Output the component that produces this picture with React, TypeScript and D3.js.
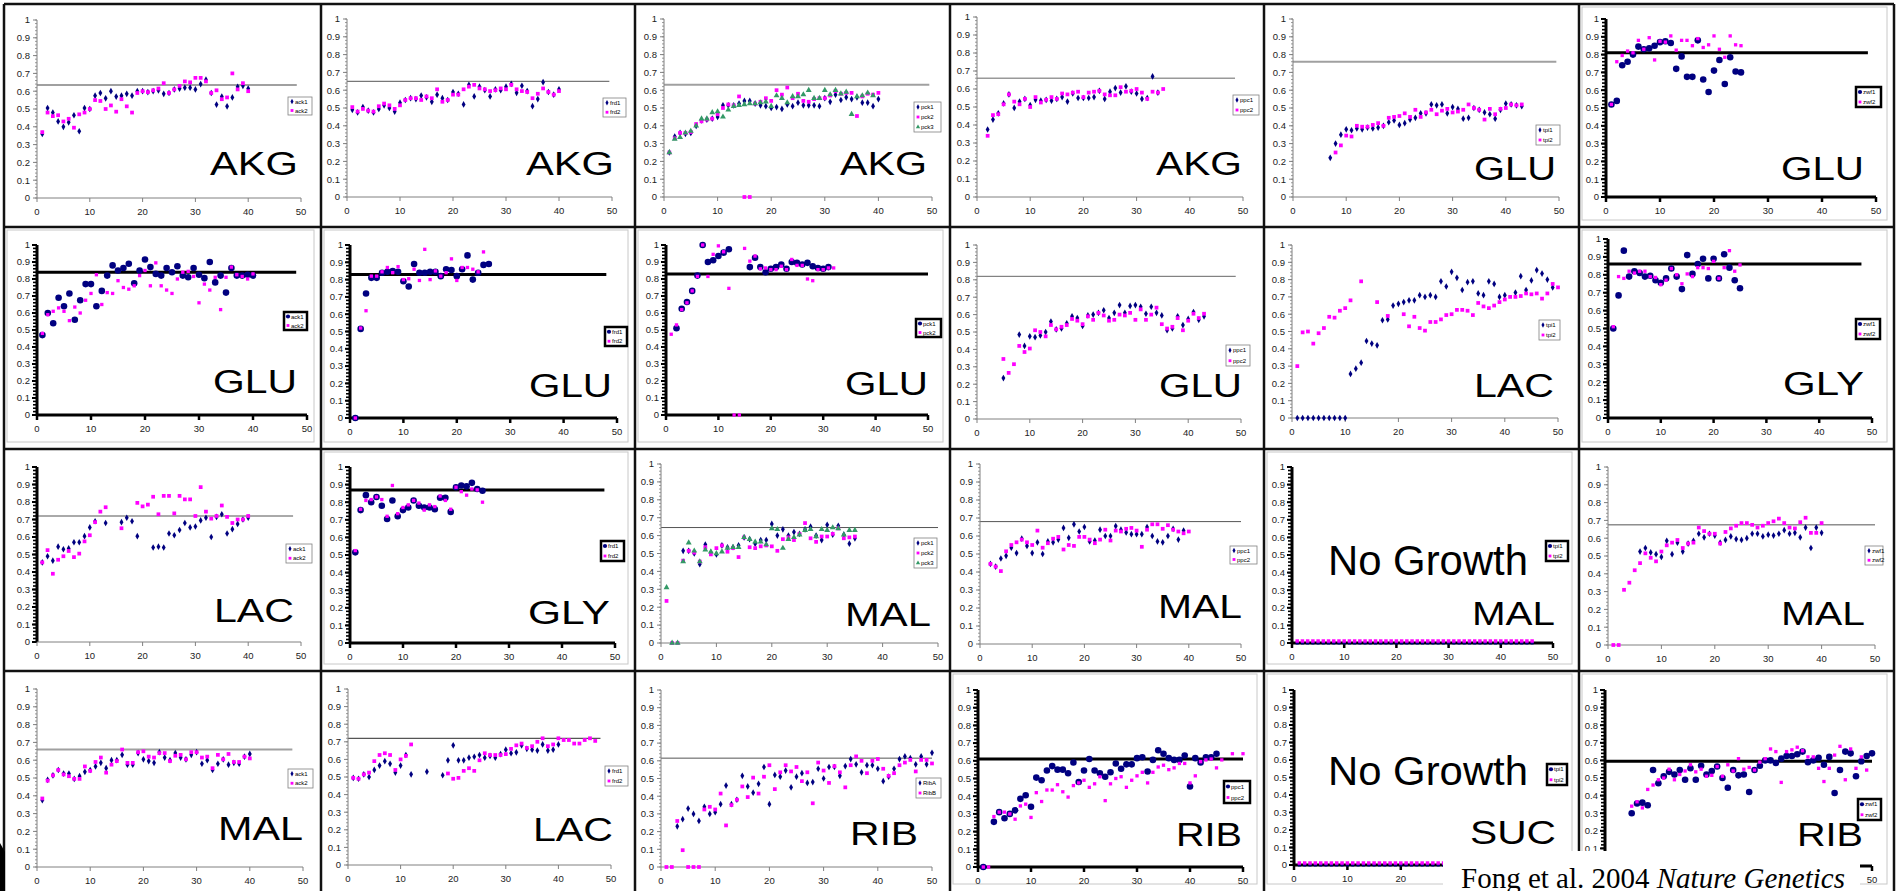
import React from 'react';
import * as d3 from 'd3';

// ---- data: each series starts at day `start`, one value per day (null = no point)
const akgAck1 = [0.36,0.505,0.48,0.43,0.40,0.425,0.465,0.375,0.505,0.50,0.575,0.59,0.56,0.60,0.57,0.575,0.585,0.575,0.60,0.60,0.595,0.60,0.605,0.585,0.59,0.61,0.615,0.62,0.62,0.61,0.64,0.665,0.59,0.525,0.57,0.515,0.565,0.625,0.63,0.615];
const akgAck2 = [0.37,0.48,0.46,0.465,0.43,0.445,0.395,0.47,0.48,0.50,0.55,0.545,0.50,0.52,0.485,0.555,0.515,0.48,0.59,0.60,0.595,0.605,0.615,0.645,0.59,0.61,0.63,0.655,0.65,0.675,0.675,0.655,0.59,0.605,0.555,0.565,0.70,0.61,0.645,0.60];
const akgFrd1 = [0.49,0.475,0.505,0.485,0.475,0.495,0.515,0.50,0.48,0.53,0.545,0.555,0.55,0.57,0.56,0.535,0.575,0.555,0.545,0.59,0.58,0.52,0.63,0.565,0.62,0.60,0.565,0.605,0.60,0.62,0.635,0.585,0.625,0.595,0.51,0.55,0.645,0.59,0.575,0.605];
const akgFrd2 = [0.505,0.48,0.495,0.485,0.48,0.51,0.525,0.515,0.495,0.515,0.545,0.555,0.555,0.545,0.565,0.555,0.605,0.535,0.545,0.575,0.575,0.605,0.62,0.63,0.61,0.605,0.595,0.60,0.61,0.605,0.63,0.605,0.595,0.59,0.555,0.58,0.61,0.59,0.575,0.595];
const akgPck1 = [0.25,0.34,0.36,0.355,0.36,0.40,0.43,0.435,0.44,0.45,0.515,0.515,0.515,0.525,0.54,0.54,0.525,0.515,0.51,0.50,0.505,0.495,0.52,0.51,0.53,0.515,0.515,0.515,0.51,0.555,0.535,0.575,0.545,0.56,0.55,0.56,0.53,0.53,0.51,0.55];
const akgPck2 = [0.25,0.33,0.36,0.36,0.365,0.41,0.425,0.435,0.44,0.465,0.50,0.52,0.515,0.565,0,0,0.525,0.535,0.555,0.54,0.60,0.575,0.615,0.555,0.58,0.54,0.535,0.55,0.555,0.555,0.57,0.595,0.58,0.585,0.585,0.455,0.565,0.58,0.575,0.585];
const akgPck3 = [0.25,0.325,0.335,0.36,0.37,0.40,0.44,0.44,0.475,0.48,0.45,0.49,0.51,0.515,0.52,0.525,0.525,0.53,0.535,0.51,0.57,0.555,0.53,0.565,0.565,0.575,0.60,0.555,0.555,0.60,0.575,0.60,0.58,0.59,0.465,0.565,0.57,0.585,0.57];
const akgPpc1 = [0.375,0.43,0.465,0.52,0.57,0.495,0.53,0.545,0.51,0.54,0.535,0.54,0.535,0.545,0.555,0.53,0.575,0.55,0.55,0.55,0.555,0.59,0.545,0.585,0.605,0.58,0.615,0.585,0.575,0.545,0.55,0.67,0.58];
const akgPpc2 = [0.34,0.455,0.46,0.515,0.57,0.53,0.515,0.545,0.50,0.555,0.525,0.54,0.555,0.545,0.575,0.57,0.58,0.585,0.555,0.58,0.585,0.59,0.57,0.565,0.565,0.61,0.585,0.59,0.60,0.58,0.545,0.585,0.58,0.60];
const gluTpi1 = [0.22,0.30,0.35,0.38,0.375,0.385,0.38,0.39,0.385,0.39,0.40,0.42,0.43,0.405,0.415,0.435,0.445,0.47,0.47,0.52,0.515,0.52,0.47,0.505,0.495,0.44,0.445,0.50,0.49,0.475,0.465,0.44,0.49,0.525,0.52,0.515,0.51];
const gluTpi2 = [0.25,0.29,0.345,0.34,0.40,0.395,0.395,0.405,0.415,0.40,0.445,0.45,0.455,0.47,0.45,0.49,0.45,0.475,0.49,0.465,0.485,0.495,0.475,0.48,0.49,0.52,0.50,0.49,0.435,0.495,0.465,0.495,0.50,0.52,0.515,0.52];
const gluZwf1 = [0.52,0.54,0.74,0.76,0.80,0.845,0.83,0.835,0.85,0.87,0.875,0.865,0.72,0.79,0.675,0.675,0.88,0.66,0.59,0.71,0.77,0.635,0.785,0.705,0.70];
const gluZwf2 = [0.52,0.76,0.795,0.82,0.81,0.88,0.83,0.895,0.77,0.875,0.87,0.905,0.825,0.88,0.88,0.85,0.89,0.84,0.855,0.905,0.83,0.785,0.905,0.855,0.85];
const gluAck1 = [0.47,0.60,0.54,0.69,0.64,0.715,0.56,0.675,0.77,0.77,0.64,0.73,0.82,0.88,0.85,0.865,0.89,0.775,0.85,0.915,0.87,0.83,0.82,0.865,0.84,0.875,0.82,0.81,0.865,0.825,0.805,0.90,0.78,0.82,0.72,0.865,0.82,0.82,0.825,0.82];
const gluAck2 = [0.48,0.59,0.61,0.63,0.61,0.555,0.635,0.60,0.675,0.715,0.825,0.65,0.72,0.715,0.79,0.75,0.74,0.76,0.82,0.85,0.76,0.895,0.76,0.735,0.715,0.80,0.84,0.845,0.815,0.66,0.77,0.735,0.81,0.62,0.81,0.87,0.825,0.815,0.80,0.83];
const gluFrd1 = [0,0.515,0.72,0.81,0.81,0.84,0.845,0.85,0.845,0.79,0.76,0.89,0.84,0.84,0.845,0.845,0.82,0.86,0.855,0.82,0.86,0.94,0.80,0.84,0.885,0.89];
const gluFrd2 = [0,0.52,0.62,0.82,0.82,0.845,0.87,0.84,0.875,0.80,0.805,0.86,0.795,0.975,0.80,0.85,0.82,0.84,0.92,0.795,0.87,0.87,0.86,0.845,0.96];
const gluPck1 = [0.51,0.625,0.665,0.73,0.82,1.0,0.90,0.91,0.935,0.955,0.975,null,null,null,0.87,0.925,0.87,0.84,0.86,0.87,0.885,0.86,0.90,0.895,0.885,0.895,0.875,0.865,0.86,0.87];
const gluPck2 = [0.475,0.53,0.62,0.66,0.73,0.815,1.0,0.815,0.945,0.995,0.96,0.745,0,0,0.98,0.905,0.935,0.86,0.865,0.855,0.855,0.875,0.855,0.915,0.88,0.88,0.80,0.79,0.855,0.855,0.865,0.865];
const gluPpc1 = [0.235,null,null,0.485,0.42,0.475,0.47,0.48,0.50,0.56,0.515,0.52,0.55,0.59,0.58,0.535,0.595,0.60,0.61,0.625,0.58,0.61,0.655,0.61,0.65,0.655,0.645,0.605,0.645,0.61,0.595,0.51,0.52,0.59,0.54,0.575,0.615,0.57,0.59];
const gluPpc2 = [0.345,0.265,0.315,0.42,0.385,0.405,0.51,0.50,0.475,0.54,0.515,0.53,0.54,0.575,0.565,0.545,0.59,0.57,0.61,0.595,0.565,0.57,0.60,0.595,0.61,0.57,0.63,0.57,0.60,0.64,0.545,0.52,0.53,0.58,0.51,0.565,0.605,0.58,0.605];
const lacTpi1 = [0,0,0,0,0,0,0,0,0,0,0.255,0.285,0.32,0.445,0.43,0.42,0.565,0.57,0.65,0.66,0.67,0.68,0.68,0.71,0.70,0.71,0.70,0.79,0.76,0.845,0.81,0.74,0.785,0.79,0.72,0.71,0.79,0.775,0.70,0.71,null,0.725,0.82,0.74,0.795,0.855,0.835,0.80,0.755];
const lacTpi2 = [0.30,0.495,0.50,0.43,0.49,0.52,0.585,0.58,0.62,0.635,0.68,null,0.79,null,null,0.67,null,0.59,null,null,0.60,0.53,0.585,0.52,0.505,0.555,0.555,0.57,0.595,0.60,0.625,0.625,0.62,0.595,0.665,0.645,0.635,0.65,0.67,0.685,0.70,0.70,0.705,0.72,0.715,0.72,0.69,0.72,0.775,0.755];
const glyZwf1 = [0.50,0.685,0.935,0.79,0.82,0.81,0.79,0.795,0.77,0.755,0.78,0.835,0.79,0.72,0.91,0.805,0.86,0.89,0.78,0.89,0.78,0.915,0.84,0.77,0.725];
const glyZwf2 = [0.51,0.79,0.78,0.82,0.81,0.82,0.82,0.79,0.785,0.745,0.77,0.835,0.80,0.75,0.805,0.79,0.84,0.84,0.835,0.875,0.78,0.84,0.935,0.82,0.855];
const lacAck1 = [0.455,0.49,0.465,0.545,0.53,0.535,0.57,0.57,0.605,0.655,0.69,null,0.68,null,null,0.685,0.71,0.69,0.605,null,null,0.54,0.545,0.54,0.62,0.61,0.64,0.68,0.655,0.66,0.695,0.71,0.60,0.715,0.73,0.62,0.645,0.675,0.70,0.71];
const lacAck2 = [0.455,0.525,0.39,0.47,0.49,0.52,0.485,0.505,0.575,0.61,0.685,0.745,0.77,null,null,0.65,null,null,0.795,0.775,0.785,0.83,0.73,0.835,0.835,0.735,0.835,0.815,0.815,0.72,0.885,0.745,0.705,0.72,0.78,0.715,0.68,0.70,0.70,0.72];
const glyFrd1 = [0.515,0.755,0.84,0.80,0.83,0.78,0.705,0.81,0.72,0.755,0.77,0.81,0.78,0.77,0.77,0.76,0.825,0.825,0.745,0.885,0.895,0.89,0.91,0.875,0.865];
const glyFrd2 = [0.525,0.76,0.81,0.815,0.83,0.815,0.72,0.895,0.735,0.77,0.785,0.81,0.795,0.755,0.785,0.775,0.835,0.81,0.76,0.885,0.86,0.84,0.875,0.87,0.80];
const malPck1 = [0.515,0.515,0.50,0.44,0.55,0.505,0.495,0.545,0.535,0.535,0.545,0.59,0.58,0.555,0.575,0.575,0.665,0.60,0.635,0.60,0.62,0.61,0.635,0.65,0.60,0.575,0.66,0.605,0.655,0.605,0.555,0.585];
const malPck2 = [0.235,0,0,0.46,0.515,0.505,0.455,0.535,0.495,0.53,0.545,0.51,0.53,0.48,0.59,0.535,0.53,0.54,0.545,0.54,0.515,0.58,0.59,0.575,0.61,0.67,0.585,0.565,0.595,0.595,0.61,0.64,0.585,0.59,0.595];
const malPck3 = [0.31,0,0,0.455,0.56,0.515,0.455,0.52,0.51,0.50,0.51,0.53,0.535,0.535,0.59,0.58,0.565,0.565,0.55,0.64,0.635,0.53,0.58,0.59,0.605,0.63,0.635,0.595,0.635,0.63,0.645,0.64,0.605,0.63,0.63];
const malPpc1 = [0.445,0.43,0.475,0.49,0.535,0.505,0.585,0.545,0.505,0.565,0.50,0.57,0.565,0.58,0.645,0.59,0.665,0.625,0.65,0.57,0.575,0.635,0.60,0.60,0.655,0.635,0.62,0.61,0.61,0.61,0.65,0.60,0.57,0.565,0.60,0.64,0.58,0.63];
const malPpc2 = [0.445,0.43,0.405,0.515,0.55,0.565,0.58,0.565,0.55,0.63,0.535,0.56,0.585,0.595,0.525,0.55,0.545,0.595,0.595,0.58,0.56,0.58,0.635,0.575,0.63,0.625,0.64,0.645,0.63,0.54,0.635,0.665,0.665,0.64,0.66,0.635,0.625,0.615,0.625];
const malTpi1 = [0,0,0,0,0,0,0,0,0,0,0,0,0,0,0,0,0,0,0,0,0,0,0,0,0,0,0,0,0,0,0,0,0,0,0,0,0,0,0,0,0,0,0,0,0,0];
const malTpi2 = [0,0,0,0,0,0,0,0,0,0,0,0,0,0,0,0,0,0,0,0,0,0,0,0,0,0,0,0,0,0,0,0,0,0,0,0,0,0,0,0,0,0,0,0,0,0];
const malZwf1 = [0.525,0.545,0.52,0.51,0.495,0.585,0.51,0.575,0.525,0.57,0.585,0.625,0.605,0.625,0.615,0.575,0.59,0.61,0.595,0.59,0.60,0.625,0.625,0.61,0.62,0.615,0.625,0.645,0.625,0.63,0.605,0.66,0.545,0.66,0.63];
const malZwf2 = [0,0,0.31,0.35,0.42,0.46,0.515,0.49,0.47,0.525,0.56,0.575,0.59,0.545,0.57,0.575,0.66,0.64,0.625,0.625,0.57,0.635,0.655,0.67,0.685,0.685,0.675,0.66,0.67,0.685,0.695,0.71,0.685,0.66,0.655,0.69,0.715,0.63,0.63,0.685];
const malAck1 = [0.375,0.49,0.515,0.545,0.525,0.525,0.495,0.51,0.535,0.545,0.565,0.585,0.555,0.60,0.60,0.63,0.575,0.575,0.64,0.605,0.595,0.585,0.645,0.615,0.60,0.64,0.615,0.605,0.63,0.645,0.58,0.60,0.545,0.58,0.605,0.575,0.585,0.58,0.62,0.635];
const malAck2 = [0.385,0.485,0.515,0.545,0.52,0.51,0.495,0.495,0.565,0.54,0.59,0.615,0.53,0.575,0.595,0.66,0.585,0.585,0.645,0.65,0.62,0.615,0.64,0.64,0.595,0.625,0.63,0.605,0.645,0.645,0.615,0.62,0.555,0.63,0.605,0.635,0.59,0.59,0.62,0.61];
const lacFrd1 = [0.495,0.49,0.515,0.50,0.54,0.565,0.59,0.575,0.525,0.565,0.625,0.515,null,null,0.53,null,null,0.51,0.595,0.68,0.595,0.595,0.61,0.615,0.625,0.61,0.62,0.61,0.63,0.655,0.635,0.64,0.68,0.66,0.655,0.65,0.685,0.65,0.655,0.685];
const lacFrd2 = [0.495,0.49,0.515,0.525,0.59,0.625,0.635,0.625,0.54,0.60,0.62,0.685,null,null,null,null,null,null,0.52,0.49,0.495,0.535,0.55,0.535,0.595,0.635,0.625,0.625,0.625,0.63,0.66,0.68,0.69,0.665,0.675,0.70,0.72,0.675,0.685,0.72,0.71,0.71,0.69,0.69,0.71,0.72,0.705];
const ribA = [0.23,0.27,0.33,0.30,0.26,0.34,0.30,0.31,0.355,0.46,0.355,0.38,0.515,0.455,0.42,0.47,0.565,0.355,0.52,0.51,0.545,0.45,0.51,0.53,0.475,0.48,0.555,0.50,0.565,0.565,0.515,0.57,0.61,0.58,0.535,0.575,0.575,0.555,0.485,0.51,0.555,0.61,0.625,0.615,0.58,0.625,0.58,0.645];
const ribB = [0,0,0.26,0.095,0,0,0,0.325,0.34,0.325,0.415,0.235,0.35,0.38,0.455,0.395,0.505,0.415,0.51,0.575,0.44,0.535,0.575,0.54,0.565,0.485,0.535,0.36,0.59,0.545,0.475,0.57,0.535,0.45,0.575,0.625,0.60,0.53,0.60,0.61,0.555,0.515,0.53,0.575,0.59,0.605,0.54,0.605,0.605,0.585];
const ribPpc1 = [0,null,0.255,0.31,0.275,0.30,0.32,0.385,0.405,0.34,0.505,0.49,0.545,0.57,0.55,0.55,0.53,0.59,0.48,0.545,0.61,0.545,0.53,0.51,0.535,0.585,0.555,0.58,0.58,0.615,0.62,0.54,0.605,0.66,0.64,0.615,0.605,0.605,0.63,0.455,0.615,0.59,0.62,0.62,0.64];
const ribPpc2 = [0,0,0.285,0.31,0.31,0.30,0.27,0.345,0.355,0.28,0.42,0.37,0.435,0.435,0.465,0.425,0.395,0.46,0.475,0.49,0.45,0.47,0.51,0.375,0.47,0.50,0.51,0.45,0.49,0.515,0.535,0.475,0.535,0.565,0.575,0.55,0.56,0.585,0.585,0.475,0.515,0.595,0.605,0.61,0.56,0.605,null,0.64,null,0.64];
const sucTpi1 = [0,0,0,0,0,0,0,0,0,0,0,0,0,0,0,0,0,0,0,0,0,0,0,0,0,0,0,0,0,0,0,0,0,0,0,0,0,0,0,0,0,0,0,0,0,0];
const sucTpi2 = [0,0,0,0,0,0,0,0,0,0,0,0,0,0,0,0,0,0,0,0,0,0,0,0,0,0,0,0,0,0,0,0,0,0,0,0,0,0,0,0,0,0,0,0,0,0];
const ribZwf1 = [0.30,0.355,0.36,0.345,0.545,0.47,0.51,0.535,0.52,0.545,0.49,0.555,0.49,0.57,0.52,0.54,0.565,0.50,0.445,0.545,0.515,0.52,0.42,0.545,0.57,0.60,0.60,0.585,0.61,0.625,0.625,0.635,0.65,0.59,0.60,0.615,0.575,0.62,0.415,0.545,0.65,0.64,0.51,0.595,0.625,0.64];
const ribZwf2 = [0.34,0.365,0.33,0.435,0.46,0.49,0.50,0.55,0.49,0.52,0.54,0.575,0.535,0.55,0.51,0.515,0.565,0.51,0.575,0.54,0.61,0.55,0.56,0.545,0.59,0.61,0.665,0.65,0.475,0.65,0.66,0.675,0.655,0.62,0.62,0.555,0.48,0.555,0.63,0.68,0.49,0.665,0.555,0.62,0.545];

const xTicks = [0, 10, 20, 30, 40, 50];
const yTicks = [0, 0.1, 0.2, 0.3, 0.4, 0.5, 0.6, 0.7, 0.8, 0.9, 1];

const NAVY = '#000080';
const PINK = '#ff00ff';
const GREEN = '#339966';
const FONT = 'Liberation Sans, Arial, sans-serif';

const colEdges = [4, 321, 635, 950, 1264, 1579, 1894];
const rowEdges = [4, 227, 449, 671, 891];

type Kind = 'navy' | 'pink' | 'green';
type Series = { label: string; start: number; values: (number | null)[]; kind: Kind };
type Label = { t: string; x1: number; x2: number; y: number; size?: number };
type Cfg = {
  r: number; c: number;
  px: [number, number]; py: [number, number];
  bold?: boolean; boldY?: boolean; flat?: boolean;
  xLabels?: number[]; yLabels?: number[];
  ref?: { y: number; xEnd: number; color: string; w: number };
  legend: [number, number, number, number];
  labels: Label[];
  series: Series[];
};

const s = (label: string, start: number, values: (number | null)[], kind: Kind): Series => ({ label, start, values, kind });

const panels: Cfg[] = [
  { r: 0, c: 0, px: [37, 301], py: [198, 20], ref: { y: 0.635, xEnd: 49.2, color: '#a0a0a0', w: 2 }, legend: [288, 97, 24, 18],
    labels: [{ t: 'AKG', x1: 210, x2: 298, y: 175 }], series: [s('ack1', 1, akgAck1, 'navy'), s('ack2', 1, akgAck2, 'pink')] },
  { r: 0, c: 1, px: [347, 612], py: [197, 19], ref: { y: 0.65, xEnd: 49.5, color: '#555', w: 1 }, legend: [603, 98, 23, 19],
    labels: [{ t: 'AKG', x1: 526, x2: 614, y: 175 }], series: [s('frd1', 1, akgFrd1, 'navy'), s('frd2', 1, akgFrd2, 'pink')] },
  { r: 0, c: 2, px: [664, 932], py: [197, 19], ref: { y: 0.63, xEnd: 49.5, color: '#a0a0a0', w: 2 }, legend: [914, 102, 27, 30],
    labels: [{ t: 'AKG', x1: 840, x2: 927, y: 175 }], series: [s('pck1', 1, akgPck1, 'navy'), s('pck2', 1, akgPck2, 'pink'), s('pck3', 1, akgPck3, 'green')] },
  { r: 0, c: 3, px: [977, 1243], py: [197, 17], ref: { y: 0.66, xEnd: 48.5, color: '#999', w: 1.5 }, legend: [1233, 95, 26, 20],
    labels: [{ t: 'AKG', x1: 1156, x2: 1242, y: 175 }], series: [s('ppc1', 2, akgPpc1, 'navy'), s('ppc2', 2, akgPpc2, 'pink')] },
  { r: 0, c: 4, px: [1293, 1559], py: [197, 19], ref: { y: 0.76, xEnd: 49.5, color: '#a0a0a0', w: 2 }, legend: [1536, 125, 24, 20],
    labels: [{ t: 'GLU', x1: 1474, x2: 1556, y: 180 }], series: [s('tpi1', 7, gluTpi1, 'navy'), s('tpi2', 8, gluTpi2, 'pink')] },
  { r: 0, c: 5, px: [1606, 1876], py: [197, 19], bold: true, ref: { y: 0.81, xEnd: 48.5, color: '#000', w: 3 }, legend: [1856, 87, 25, 20],
    labels: [{ t: 'GLU', x1: 1781, x2: 1864, y: 180 }], series: [s('zwf1', 1, gluZwf1, 'navy'), s('zwf2', 1, gluZwf2, 'pink')] },

  { r: 1, c: 0, px: [37, 307], py: [415, 245], bold: true, ref: { y: 0.84, xEnd: 48, color: '#000', w: 3 }, legend: [284, 312, 23, 18],
    labels: [{ t: 'GLU', x1: 213, x2: 297, y: 393 }], series: [s('ack1', 1, gluAck1, 'navy'), s('ack2', 1, gluAck2, 'pink')] },
  { r: 1, c: 1, px: [350, 617], py: [418, 245], bold: true, ref: { y: 0.83, xEnd: 48, color: '#000', w: 3 }, legend: [605, 327, 22, 19],
    labels: [{ t: 'GLU', x1: 529, x2: 612, y: 397 }], series: [s('frd1', 1, gluFrd1, 'navy'), s('frd2', 1, gluFrd2, 'pink')] },
  { r: 1, c: 2, px: [666, 928], py: [415, 245], bold: true, ref: { y: 0.83, xEnd: 50, color: '#000', w: 3 }, legend: [916, 319, 25, 18],
    labels: [{ t: 'GLU', x1: 845, x2: 928, y: 395 }], series: [s('pck1', 2, gluPck1, 'navy'), s('pck2', 1, gluPck2, 'pink')] },
  { r: 1, c: 3, px: [977, 1241], py: [419, 245], ref: { y: 0.82, xEnd: 49, color: '#666', w: 1 }, legend: [1226, 345, 24, 21],
    labels: [{ t: 'GLU', x1: 1159, x2: 1242, y: 397 }], series: [s('ppc1', 5, gluPpc1, 'navy'), s('ppc2', 5, gluPpc2, 'pink')] },
  { r: 1, c: 4, px: [1292, 1558], py: [418, 245], legend: [1539, 320, 21, 20],
    labels: [{ t: 'LAC', x1: 1474, x2: 1554, y: 397 }], series: [s('tpi1', 1, lacTpi1, 'navy'), s('tpi2', 1, lacTpi2, 'pink')] },
  { r: 1, c: 5, px: [1608, 1872], py: [418, 239], bold: true, ref: { y: 0.86, xEnd: 48, color: '#000', w: 3 }, legend: [1856, 319, 24, 20],
    labels: [{ t: 'GLY', x1: 1783, x2: 1864, y: 395 }], series: [s('zwf1', 1, glyZwf1, 'navy'), s('zwf2', 1, glyZwf2, 'pink')] },

  { r: 2, c: 0, px: [37, 301], py: [642, 467], boldY: true, ref: { y: 0.72, xEnd: 48.5, color: '#555', w: 1 }, legend: [286, 544, 26, 19],
    labels: [{ t: 'LAC', x1: 214, x2: 294, y: 622 }], series: [s('ack1', 1, lacAck1, 'navy'), s('ack2', 1, lacAck2, 'pink')] },
  { r: 2, c: 1, px: [350, 615], py: [643, 467], bold: true, ref: { y: 0.87, xEnd: 48, color: '#000', w: 3 }, legend: [601, 541, 23, 20],
    labels: [{ t: 'GLY', x1: 528, x2: 610, y: 624 }], series: [s('frd1', 1, glyFrd1, 'navy'), s('frd2', 1, glyFrd2, 'pink')] },
  { r: 2, c: 2, px: [661, 938], py: [643, 464], ref: { y: 0.645, xEnd: 50, color: '#555', w: 1 }, legend: [914, 538, 23, 30],
    labels: [{ t: 'MAL', x1: 845, x2: 931, y: 626 }], series: [s('pck1', 4, malPck1, 'navy'), s('pck2', 1, malPck2, 'pink'), s('pck3', 1, malPck3, 'green')] },
  { r: 2, c: 3, px: [980, 1241], py: [644, 464], ref: { y: 0.68, xEnd: 50, color: '#555', w: 1 }, legend: [1230, 546, 27, 18],
    labels: [{ t: 'MAL', x1: 1158, x2: 1242, y: 618 }], series: [s('ppc1', 2, malPpc1, 'navy'), s('ppc2', 2, malPpc2, 'pink')] },
  { r: 2, c: 4, px: [1292, 1553], py: [643, 467], bold: true, flat: true, legend: [1546, 541, 22, 20],
    labels: [{ t: 'No Growth', x1: 1328, x2: 1528, y: 575, size: 42 }, { t: 'MAL', x1: 1472, x2: 1555, y: 625 }],
    series: [s('tpi1', 1, malTpi1, 'navy'), s('tpi2', 1, malTpi2, 'pink')] },
  { r: 2, c: 5, px: [1608, 1875], py: [645, 467], ref: { y: 0.675, xEnd: 50, color: '#555', w: 1 }, legend: [1865, 546, 18, 19],
    labels: [{ t: 'MAL', x1: 1781, x2: 1865, y: 625 }], series: [s('zwf1', 6, malZwf1, 'navy'), s('zwf2', 1, malZwf2, 'pink')] },

  { r: 3, c: 0, px: [37, 303], py: [867, 689], ref: { y: 0.66, xEnd: 48, color: '#a0a0a0', w: 2 }, legend: [288, 769, 25, 19],
    labels: [{ t: 'MAL', x1: 218, x2: 303, y: 840 }], series: [s('ack1', 1, malAck1, 'navy'), s('ack2', 1, malAck2, 'pink')] },
  { r: 3, c: 1, px: [348, 611], py: [865, 689], ref: { y: 0.72, xEnd: 48, color: '#555', w: 1.2 }, legend: [605, 766, 23, 20],
    labels: [{ t: 'LAC', x1: 533, x2: 613, y: 841 }], series: [s('frd1', 1, lacFrd1, 'navy'), s('frd2', 1, lacFrd2, 'pink')] },
  { r: 3, c: 2, px: [661, 932], py: [867, 690], ref: { y: 0.615, xEnd: 50, color: '#555', w: 1 }, legend: [916, 778, 25, 20],
    labels: [{ t: 'RIB', x1: 850, x2: 918, y: 845 }], series: [s('RibA', 3, ribA, 'navy'), s('RibB', 1, ribB, 'pink')] },
  { r: 3, c: 3, px: [978, 1243], py: [867, 690], bold: true, ref: { y: 0.61, xEnd: 50, color: '#000', w: 3 }, legend: [1224, 781, 26, 22],
    labels: [{ t: 'RIB', x1: 1176, x2: 1242, y: 846 }], series: [s('ppc1', 1, ribPpc1, 'navy'), s('ppc2', 1, ribPpc2, 'pink')] },
  { r: 3, c: 4, px: [1294, 1561], py: [865, 690], bold: true, flat: true, xLabels: [0, 10, 20], legend: [1547, 764, 20, 21],
    labels: [{ t: 'No Growth', x1: 1328, x2: 1528, y: 785, size: 40 }, { t: 'SUC', x1: 1470, x2: 1556, y: 844 }],
    series: [s('tpi1', 1, sucTpi1, 'navy'), s('tpi2', 1, sucTpi2, 'pink')] },
  { r: 3, c: 5, px: [1605, 1872], py: [866, 690], bold: true, xLabels: [50], yLabels: [0.1, 0.2, 0.3, 0.4, 0.5, 0.6, 0.7, 0.8, 0.9, 1],
    ref: { y: 0.595, xEnd: 50, color: '#000', w: 3 }, legend: [1858, 799, 23, 21],
    labels: [{ t: 'RIB', x1: 1797, x2: 1863, y: 846 }], series: [s('zwf1', 5, ribZwf1, 'navy'), s('zwf2', 5, ribZwf2, 'pink')] },
];

function marker(kind: Kind, bold: boolean, small = false) {
  if (kind === 'navy') {
    return bold
      ? d3.symbol(d3.symbolCircle, small ? 14 : 34)()
      : d3.symbol(d3.symbolDiamond, small ? 8 : 13)();
  }
  if (kind === 'pink') return d3.symbol(d3.symbolSquare, small ? 8 : bold ? 11 : 14)();
  return d3.symbol(d3.symbolTriangle, small ? 8 : 15)();
}
const colorOf = (k: Kind) => (k === 'navy' ? NAVY : k === 'pink' ? PINK : GREEN);
const fmtY = (v: number) => (v === 0 ? '0' : v === 1 ? '1' : v.toFixed(1));

function Panel({ p }: { p: Cfg }) {
  const x = d3.scaleLinear().domain([0, 50]).range(p.px);
  const y = d3.scaleLinear().domain([0, 1]).range(p.py);
  const bold = !!p.bold;
  const boldY = bold || !!p.boldY;
  const yAxisCol = boldY ? '#000' : '#808080';
  const xAxisCol = bold ? '#000' : '#808080';
  const minor = d3.range(0, 51).map(i => i / 50);
  const cl = colEdges[p.c], cr = colEdges[p.c + 1], ct = rowEdges[p.r], cb = rowEdges[p.r + 1];
  const [lx, ly, lw, lh] = p.legend;
  const n = p.series.length;
  const shownX = p.xLabels ?? xTicks;
  const shownY = p.yLabels ?? yTicks;

  return (
    <g>
      {bold && (
        <rect x={cl + 3} y={ct + 3} width={cr - cl - 10} height={cb - ct - 10} fill="none" stroke="#c8c8c8" strokeWidth={1} />
      )}
      {p.ref && (
        <line x1={x(0)} x2={x(p.ref.xEnd)} y1={y(p.ref.y)} y2={y(p.ref.y)} stroke={p.ref.color} strokeWidth={p.ref.w} />
      )}
      {/* y axis */}
      <line x1={x(0)} x2={x(0)} y1={y(0)} y2={y(1)} stroke={yAxisCol} strokeWidth={boldY ? 3 : 1} />
      {minor.map(v => (
        <line key={'m' + v} x1={x(0) - (boldY ? 4 : 2)} x2={x(0)} y1={y(v)} y2={y(v)} stroke={yAxisCol} strokeWidth={boldY ? 1.6 : 0.8} />
      ))}
      {yTicks.map(v => (
        <line key={'yt' + v} x1={x(0) - (boldY ? 5 : 4)} x2={x(0)} y1={y(v)} y2={y(v)} stroke={yAxisCol} strokeWidth={boldY ? 2 : 1} />
      ))}
      {shownY.map(v => (
        <text key={'y' + v} x={x(0) - 7} y={y(v)} dy="0.35em" textAnchor="end" fontSize={9.5} fontFamily={FONT} fill="#222">{fmtY(v)}</text>
      ))}
      {/* x axis */}
      <line x1={x(0)} x2={x(50)} y1={y(0)} y2={y(0)} stroke={xAxisCol} strokeWidth={bold ? 3 : 1} />
      {xTicks.map(v => (
        <line key={'xt' + v} x1={x(v)} x2={x(v)} y1={y(0)} y2={y(0) + (bold ? 5 : 4)} stroke={xAxisCol} strokeWidth={bold ? 2.5 : 1} />
      ))}
      {shownX.map(v => (
        <text key={'x' + v} x={x(v)} y={y(0) + 17} textAnchor="middle" fontSize={9.5} fontFamily={FONT} fill="#222">{v}</text>
      ))}
      {/* points */}
      {p.series.map(se => {
        const path = p.flat
          ? d3.symbol(d3.symbolSquare, se.kind === 'navy' ? 9 : 12)()
          : marker(se.kind, bold);
        const dy = p.flat && se.kind === 'pink' ? -2 : 0;
        return (
          <g key={se.label} fill={colorOf(se.kind)}>
            {se.values.map((v, i) =>
              v === null ? null : (
                <path key={i} d={path!} transform={`translate(${x(se.start + i)},${y(v) + dy})`} />
              )
            )}
          </g>
        );
      })}
      {/* big labels */}
      {p.labels.map(l => (
        <text key={l.t} x={l.x1} y={l.y} fontSize={l.size ?? 34} fontFamily={FONT} fill="#000"
          textLength={l.x2 - l.x1} lengthAdjust="spacingAndGlyphs">{l.t}</text>
      ))}
      {/* legend */}
      <rect x={lx} y={ly} width={lw} height={lh} fill="#fff" stroke={bold ? '#000' : '#808080'} strokeWidth={bold ? 2.5 : 0.8} />
      {p.series.map((se, i) => {
        const cy = ly + (i + 0.5) * (lh / n);
        return (
          <g key={'lg' + se.label}>
            <path d={marker(se.kind, bold, true)!} transform={`translate(${lx + 4},${cy})`} fill={colorOf(se.kind)} />
            <text x={lx + 7} y={cy} dy="0.35em" fontSize={6} fontFamily={FONT} fill="#000">{se.label}</text>
          </g>
        );
      })}
    </g>
  );
}

export default function App() {
  return (
    <svg width={1896} height={891} style={{ position: 'fixed', left: 0, top: 0, background: '#fff' }}>
      <rect x={0} y={0} width={1896} height={891} fill="#fff" />
      {panels.map((p, i) => <Panel key={i} p={p} />)}
      {/* grid of cell borders */}
      {colEdges.map(cx => (
        <line key={'c' + cx} x1={cx} x2={cx} y1={rowEdges[0]} y2={891} stroke="#111" strokeWidth={2.5} />
      ))}
      {rowEdges.slice(0, 4).map(ry => (
        <line key={'r' + ry} x1={colEdges[0]} x2={colEdges[6]} y1={ry} y2={ry} stroke="#111" strokeWidth={2.5} />
      ))}
      <polygon points="0,843 5,852 5,891 0,891" fill="#000" />
      {/* citation */}
      <rect x={1443} y={851} width={417} height={40} fill="#fff" />
      <text x={1461} y={888} fontSize={29} fontFamily="Liberation Serif, Times New Roman, serif" fill="#000">
        Fong et al. 2004 <tspan fontStyle="italic">Nature Genetics</tspan>
      </text>
    </svg>
  );
}
